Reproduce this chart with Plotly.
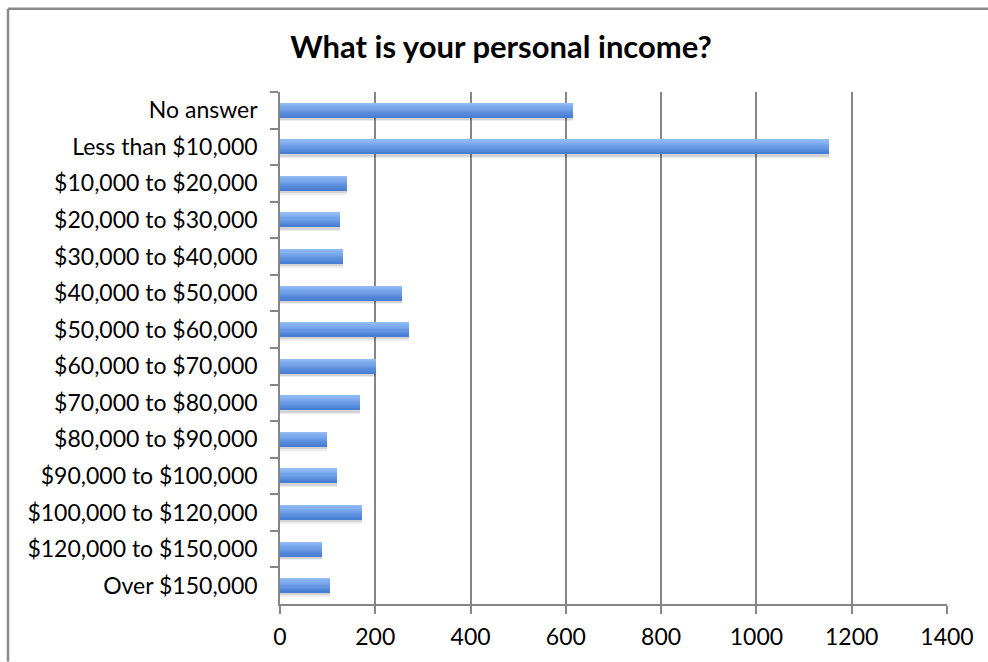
import plotly.graph_objects as go

# Survey answers, top to bottom
categories = [
    "No answer", "Less than $10,000", "$10,000 to $20,000", "$20,000 to $30,000",
    "$30,000 to $40,000", "$40,000 to $50,000", "$50,000 to $60,000",
    "$60,000 to $70,000", "$70,000 to $80,000", "$80,000 to $90,000",
    "$90,000 to $100,000", "$100,000 to $120,000", "$120,000 to $150,000",
    "Over $150,000",
]
counts = [614, 1152, 140, 125, 133, 256, 270, 201, 168, 98, 119, 172, 89, 105]
x_ticks = [0, 200, 400, 600, 800, 1000, 1200, 1400]

W, H = 988, 662
ML, MR, MT, MB = 280, 41, 92, 53

BAR_W = 0.39
N_STRIPS = 12
TOP_RGB = (146, 188, 246)
BOT_RGB = (72, 126, 212)

fig = go.Figure()

# soft shadow under each bar (two layers for a little falloff)
for off, alpha in ((0.11, 0.07), (0.07, 0.10)):
    fig.add_trace(go.Bar(
        y=categories, x=counts, orientation="h",
        width=BAR_W, offset=-BAR_W / 2 + off,
        marker=dict(color=f"rgba(0,0,0,{alpha})", line=dict(width=0)),
        hoverinfo="skip", showlegend=False,
    ))

# vertical gradient built from thin stacked strips
strip = BAR_W / N_STRIPS
for k in range(N_STRIPS):
    t = k / (N_STRIPS - 1)
    r, g, b = (round(TOP_RGB[c] + (BOT_RGB[c] - TOP_RGB[c]) * t) for c in range(3))
    fig.add_trace(go.Bar(
        y=categories, x=counts, orientation="h",
        width=strip * 1.08, offset=-BAR_W / 2 + k * strip,
        marker=dict(color=f"rgb({r},{g},{b})", line=dict(width=0)),
        hoverinfo="x+y" if k == 0 else "skip", showlegend=False,
    ))

axis_gray = "#868686"

fig.update_layout(
    width=W, height=H,
    margin=dict(l=ML, r=MR, t=MT, b=MB),
    paper_bgcolor="white", plot_bgcolor="white",
    barmode="overlay",
    bargap=0,
    title=dict(
        text="<b>What is your personal income?</b>",
        x=501 / W, xanchor="center",
        y=1 - 47 / H, yanchor="middle",
        font=dict(family="Lato", size=31, color="black"),
    ),
    font=dict(family="Lato", color="black"),
    xaxis=dict(
        range=[0, 1400], tickvals=x_ticks,
        showgrid=True, gridcolor=axis_gray, gridwidth=1.5,
        showline=True, linecolor=axis_gray, linewidth=1.5,
        ticks="outside", ticklen=8, tickcolor=axis_gray, tickwidth=1.5,
        tickfont=dict(size=23), zeroline=False, ticklabelstandoff=4,
    ),
    yaxis=dict(
        type="category", categoryorder="array", categoryarray=categories,
        autorange="reversed",
        tickson="boundaries",
        showgrid=False,
        showline=True, linecolor=axis_gray, linewidth=1.5,
        ticks="outside", ticklen=8, tickcolor=axis_gray, tickwidth=1.5,
        tickfont=dict(size=23), ticklabelstandoff=16,
    ),
)

# chart frame (left and top edges)
pw, ph = W - ML - MR, H - MT - MB
fx = (8 - ML) / pw
fy = 1 + (MT - 8) / ph
fig.add_shape(type="line", xref="paper", yref="paper",
              x0=fx, x1=fx, y0=fy, y1=-(MB + 5) / ph,
              line=dict(color="#8a8a8a", width=2.5))
fig.add_shape(type="line", xref="paper", yref="paper",
              x0=fx, x1=1 + (MR + 5) / pw, y0=fy, y1=fy,
              line=dict(color="#8a8a8a", width=2.5))

fig.write_html("out.html")
